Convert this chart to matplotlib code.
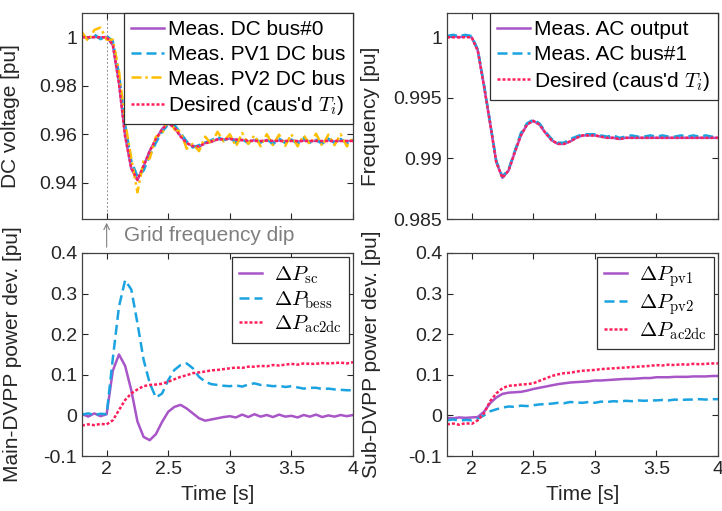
import matplotlib
matplotlib.use('Agg')
import matplotlib.pyplot as plt
import matplotlib.transforms as mtransforms

plt.rcParams['font.family'] = ['Liberation Sans', 'DejaVu Sans']
plt.rcParams['mathtext.fontset'] = 'cm'

# time axis [s]
t = [1.80, 1.85, 1.90, 1.95, 2.00, 2.05, 2.10, 2.15, 2.20, 2.25, 2.30, 2.35, 2.40, 2.45, 2.50,
     2.55, 2.60, 2.65, 2.70, 2.75, 2.80, 2.85, 2.90, 2.95, 3.00, 3.05, 3.10, 3.15, 3.20, 3.25,
     3.30, 3.35, 3.40, 3.45, 3.50, 3.55, 3.60, 3.65, 3.70, 3.75, 3.80, 3.85, 3.90, 3.95, 4.00]

# DC voltage [pu]
dc_bus0 = [1.0003, 0.9998, 1.0002, 0.9999, 1.0001, 0.9968, 0.9812, 0.9595, 0.9458, 0.9410, 0.9468,
           0.9532, 0.9578, 0.9622, 0.9647, 0.9626, 0.9593, 0.9562, 0.9552, 0.9548, 0.9565, 0.9568,
           0.9580, 0.9577, 0.9583, 0.9576, 0.9577, 0.9570, 0.9575, 0.9569, 0.9576, 0.9570, 0.9574,
           0.9570, 0.9575, 0.9569, 0.9574, 0.9571, 0.9573, 0.9569, 0.9575, 0.9570, 0.9573, 0.9571, 0.9574]
dc_pv1 = [1.0010, 0.9995, 1.0012, 0.9992, 1.0005, 0.9985, 0.9850, 0.9640, 0.9490, 0.9425, 0.9450,
          0.9510, 0.9565, 0.9610, 0.9640, 0.9638, 0.9605, 0.9570, 0.9545, 0.9555, 0.9565, 0.9575,
          0.9590, 0.9575, 0.9585, 0.9565, 0.9580, 0.9562, 0.9585, 0.9565, 0.9580, 0.9558, 0.9582,
          0.9563, 0.9578, 0.9560, 0.9583, 0.9565, 0.9577, 0.9560, 0.9582, 0.9564, 0.9580, 0.9562, 0.9578]
dc_pv2 = [1.0020, 0.9985, 1.0030, 1.0040, 0.9990, 0.9990, 0.9860, 0.9650, 0.9500, 0.9360, 0.9490,
          0.9500, 0.9590, 0.9600, 0.9670, 0.9620, 0.9610, 0.9540, 0.9560, 0.9530, 0.9590, 0.9560,
          0.9610, 0.9570, 0.9600, 0.9550, 0.9605, 0.9560, 0.9595, 0.9550, 0.9600, 0.9555, 0.9598,
          0.9552, 0.9600, 0.9550, 0.9595, 0.9558, 0.9602, 0.9552, 0.9598, 0.9555, 0.9600, 0.9550, 0.9585]
dc_desired = [1.0000, 1.0000, 1.0000, 1.0000, 1.0000, 0.9970, 0.9810, 0.9590, 0.9460, 0.9412, 0.9470,
              0.9530, 0.9580, 0.9620, 0.9645, 0.9628, 0.9590, 0.9564, 0.9550, 0.9550, 0.9562, 0.9570,
              0.9578, 0.9580, 0.9580, 0.9578, 0.9575, 0.9573, 0.9572, 0.9572, 0.9573, 0.9573, 0.9572,
              0.9572, 0.9572, 0.9572, 0.9572, 0.9572, 0.9572, 0.9572, 0.9572, 0.9572, 0.9572, 0.9572, 0.9572]

# frequency [pu]
fr_ac_out = [1.0000, 1.0001, 1.0000, 1.0001, 1.0000, 0.9989, 0.9960, 0.9929, 0.9897, 0.9884, 0.9890,
             0.9905, 0.9919, 0.9928, 0.9931, 0.9928, 0.9921, 0.9915, 0.9912, 0.9912, 0.9914, 0.9917,
             0.9919, 0.9919, 0.9919, 0.9918, 0.9917, 0.9917, 0.9916, 0.9917, 0.9917, 0.9917, 0.9917,
             0.9917, 0.9917, 0.9917, 0.9917, 0.9917, 0.9917, 0.9917, 0.9917, 0.9917, 0.9917, 0.9917, 0.9917]
fr_bus1 = [1.0001, 1.0002, 1.0001, 1.0002, 1.0001, 0.9990, 0.9961, 0.9930, 0.9898, 0.9885, 0.9891,
           0.9906, 0.9921, 0.9929, 0.9932, 0.9929, 0.9922, 0.9916, 0.9913, 0.9913, 0.9916, 0.9918,
           0.9920, 0.9920, 0.9920, 0.9919, 0.9918, 0.9919, 0.9917, 0.9918, 0.9919, 0.9918, 0.9918,
           0.9919, 0.9918, 0.9919, 0.9918, 0.9918, 0.9919, 0.9918, 0.9919, 0.9918, 0.9919, 0.9918, 0.9918]
fr_desired = [1.0000, 1.0000, 1.0000, 1.0000, 1.0000, 0.9989, 0.9960, 0.9929, 0.9897, 0.9884, 0.9890,
              0.9905, 0.9919, 0.9928, 0.9931, 0.9928, 0.9921, 0.9915, 0.9912, 0.9912, 0.9914, 0.9917,
              0.9919, 0.9919, 0.9919, 0.9918, 0.9917, 0.9917, 0.9916, 0.9917, 0.9917, 0.9917, 0.9917,
              0.9917, 0.9917, 0.9917, 0.9917, 0.9917, 0.9917, 0.9917, 0.9917, 0.9917, 0.9917, 0.9917, 0.9917]

# main-DVPP power deviation [pu]
p_sc = [0.004, -0.003, 0.005, -0.002, 0.003, 0.110, 0.150, 0.122, 0.062, -0.015, -0.053, -0.061,
        -0.046, -0.016, 0.009, 0.021, 0.026, 0.017, 0.005, -0.007, -0.013, -0.010, -0.007, -0.004,
        -0.002, -0.005, 0.002, -0.004, 0.003, -0.003, 0.001, -0.004, 0.002, -0.003, -0.001, -0.005,
        0.001, -0.003, 0.002, -0.004, 0.000, -0.003, 0.001, -0.002, 0.001]
p_bess = [0.002, 0.005, 0.001, 0.004, 0.003, 0.140, 0.268, 0.333, 0.310, 0.227, 0.137, 0.079,
          0.044, 0.054, 0.087, 0.112, 0.124, 0.128, 0.116, 0.095, 0.083, 0.077, 0.075, 0.073,
          0.072, 0.074, 0.071, 0.076, 0.079, 0.075, 0.074, 0.072, 0.073, 0.070, 0.072, 0.069,
          0.066, 0.068, 0.068, 0.065, 0.066, 0.064, 0.063, 0.062, 0.062]
p_ac2dc_main = [-0.025, -0.022, -0.024, -0.021, -0.022, -0.012, 0.013, 0.038, 0.054, 0.064, 0.072,
                0.075, 0.076, 0.078, 0.083, 0.089, 0.095, 0.099, 0.104, 0.106, 0.108, 0.111, 0.112,
                0.114, 0.116, 0.118, 0.117, 0.120, 0.120, 0.122, 0.121, 0.124, 0.123, 0.125, 0.127,
                0.125, 0.128, 0.127, 0.127, 0.129, 0.128, 0.129, 0.130, 0.128, 0.131]

# sub-DVPP power deviation [pu]
p_pv1 = [-0.006, -0.007, -0.005, -0.006, -0.005, -0.004, 0.009, 0.030, 0.044, 0.053, 0.056, 0.057,
         0.058, 0.061, 0.065, 0.068, 0.071, 0.074, 0.077, 0.079, 0.081, 0.082, 0.083, 0.084, 0.086,
         0.086, 0.087, 0.088, 0.089, 0.090, 0.090, 0.091, 0.092, 0.092, 0.094, 0.094, 0.094, 0.095,
         0.095, 0.095, 0.096, 0.096, 0.096, 0.097, 0.097]
p_pv2 = [-0.012, -0.010, -0.013, -0.011, -0.012, -0.008, 0.000, 0.010, 0.015, 0.019, 0.022, 0.021,
         0.024, 0.023, 0.025, 0.027, 0.028, 0.029, 0.031, 0.030, 0.033, 0.032, 0.031, 0.033, 0.031,
         0.034, 0.033, 0.035, 0.034, 0.036, 0.035, 0.037, 0.036, 0.037, 0.037, 0.038, 0.037, 0.039,
         0.038, 0.039, 0.039, 0.040, 0.039, 0.040, 0.040]
p_ac2dc_sub = [-0.022, -0.020, -0.023, -0.019, -0.021, -0.012, 0.005, 0.035, 0.054, 0.067, 0.073,
               0.074, 0.076, 0.077, 0.079, 0.085, 0.091, 0.097, 0.101, 0.104, 0.105, 0.108, 0.110,
               0.111, 0.112, 0.114, 0.115, 0.116, 0.117, 0.118, 0.119, 0.120, 0.121, 0.122, 0.124,
               0.123, 0.125, 0.124, 0.126, 0.125, 0.127, 0.126, 0.127, 0.128, 0.128]

dip_time = 2.0
xticks = [2, 2.5, 3, 3.5, 4]
xticklabels = ['2', '2.5', '3', '3.5', '4']

purple = '#a855c8'
blue = '#1aa3e0'
yellow = '#ffbf00'
red = '#ff1f5a'
txt = '#262626'

fig = plt.figure(figsize=(7.22, 5.11), dpi=100)
ax_dc = fig.add_axes([0.1136, 0.5714, 0.3753, 0.4031])
ax_fr = fig.add_axes([0.6191, 0.5714, 0.3753, 0.4031])
ax_pm = fig.add_axes([0.1136, 0.1076, 0.3753, 0.3973])
ax_ps = fig.add_axes([0.6191, 0.1076, 0.3753, 0.3973])

lw = 1.8
dashed = (0, (4, 2))
dotted = (0, (1.2, 0.8))

# top left: DC voltage
ax_dc.plot(t, dc_bus0, color=purple, lw=lw, label='Meas. DC bus#0')
ax_dc.plot(t, dc_pv1, color=blue, lw=lw, ls=dashed, label='Meas. PV1 DC bus')
ax_dc.plot(t, dc_pv2, color=yellow, lw=lw, ls=(0, (4, 1.5, 1, 1.5)), label='Meas. PV2 DC bus')
ax_dc.plot(t, dc_desired, color=red, lw=lw, ls=dotted, label="Desired (caus'd $T_i$)")
ax_dc.axvline(dip_time, color='#909090', lw=0.7, ls=(0, (2, 2)), zorder=0)
ax_dc.set_ylim(0.925, 1.01)
ax_dc.set_yticks([0.94, 0.96, 0.98, 1])
ax_dc.set_yticklabels(['0.94', '0.96', '0.98', '1'])
ax_dc.set_ylabel('DC voltage [pu]', fontsize=15)
ax_dc.yaxis.set_label_coords(-0.229, 0.5)

# top right: frequency
ax_fr.plot(t, fr_ac_out, color=purple, lw=lw, label='Meas. AC output')
ax_fr.plot(t, fr_bus1, color=blue, lw=lw, ls=dashed, label='Meas. AC bus#1')
ax_fr.plot(t, fr_desired, color=red, lw=lw, ls=dotted, label="Desired (caus'd $T_i$)")
ax_fr.set_ylim(0.985, 1.002)
ax_fr.set_yticks([0.985, 0.99, 0.995, 1])
ax_fr.set_yticklabels(['0.985', '0.99', '0.995', '1'])
ax_fr.set_ylabel('Frequency [pu]', fontsize=15)
ax_fr.yaxis.set_label_coords(-0.247, 0.5)

# bottom left: main DVPP
ax_pm.plot(t, p_sc, color=purple, lw=lw, label=r'$\Delta P_{\mathrm{sc}}$')
ax_pm.plot(t, p_bess, color=blue, lw=lw, ls=dashed, label=r'$\Delta P_{\mathrm{bess}}$')
ax_pm.plot(t, p_ac2dc_main, color=red, lw=lw, ls=dotted, label=r'$\Delta P_{\mathrm{ac2dc}}$')
ax_pm.set_ylabel('Main-DVPP power dev. [pu]', fontsize=15)
ax_pm.yaxis.set_label_coords(-0.221, 0.5)

# bottom right: sub DVPP
ax_ps.plot(t, p_pv1, color=purple, lw=lw, label=r'$\Delta P_{\mathrm{pv1}}$')
ax_ps.plot(t, p_pv2, color=blue, lw=lw, ls=dashed, label=r'$\Delta P_{\mathrm{pv2}}$')
ax_ps.plot(t, p_ac2dc_sub, color=red, lw=lw, ls=dotted, label=r'$\Delta P_{\mathrm{ac2dc}}$')
ax_ps.set_ylabel('Sub-DVPP power dev. [pu]', fontsize=15)
ax_ps.yaxis.set_label_coords(-0.244, 0.5)

for ax in (ax_pm, ax_ps):
    ax.set_ylim(-0.1, 0.4)
    ax.set_yticks([-0.1, 0, 0.1, 0.2, 0.3, 0.4])
    ax.set_yticklabels(['-0.1', '0', '0.1', '0.2', '0.3', '0.4'])
    ax.set_xlabel('Time [s]', fontsize=15)
    ax.xaxis.set_label_coords(0.5, -0.145)

for ax in (ax_dc, ax_fr, ax_pm, ax_ps):
    ax.set_xlim(1.8, 4)
    ax.set_xticks(xticks)
    ax.tick_params(direction='in', top=True, right=True, labelsize=14,
                   colors=txt, length=4, width=0.8)
    for sp in ax.spines.values():
        sp.set_color('#404040')
        sp.set_linewidth(0.9)
    ax.yaxis.label.set_color(txt)
    ax.xaxis.label.set_color(txt)

for ax in (ax_pm, ax_ps):
    ax.set_xticklabels(xticklabels)
for ax in (ax_dc, ax_fr):
    ax.tick_params(labelbottom=False)

for ax in (ax_dc, ax_fr):
    lg = ax.legend(fontsize=15, handlelength=1.6, borderaxespad=0, loc='upper right',
                   fancybox=False, framealpha=1, edgecolor='#303030',
                   handletextpad=0.2, borderpad=0.35, labelspacing=0.27)
    lg.get_frame().set_linewidth(0.9)
for ax in (ax_pm, ax_ps):
    lg = ax.legend(fontsize=15, handlelength=1.1, handletextpad=0.55, borderaxespad=0.2,
                   loc='upper right', fancybox=False, framealpha=1, edgecolor='#303030',
                   borderpad=0.35, labelspacing=0.15)
    lg.get_frame().set_linewidth(0.9)

# grid frequency dip marker
trans = mtransforms.blended_transform_factory(ax_dc.transData, ax_dc.transAxes)
ax_dc.annotate('', xy=(dip_time, -0.005), xycoords=trans, xytext=(dip_time, -0.15),
               textcoords=trans, annotation_clip=False,
               arrowprops=dict(arrowstyle='->', color='#808080', lw=0.8))
ax_dc.text(dip_time + 0.14, -0.078, 'Grid frequency dip', transform=trans, color='#7f7f7f',
           fontsize=15, ha='left', va='center', clip_on=False)

fig.savefig('out.png', dpi=100)
